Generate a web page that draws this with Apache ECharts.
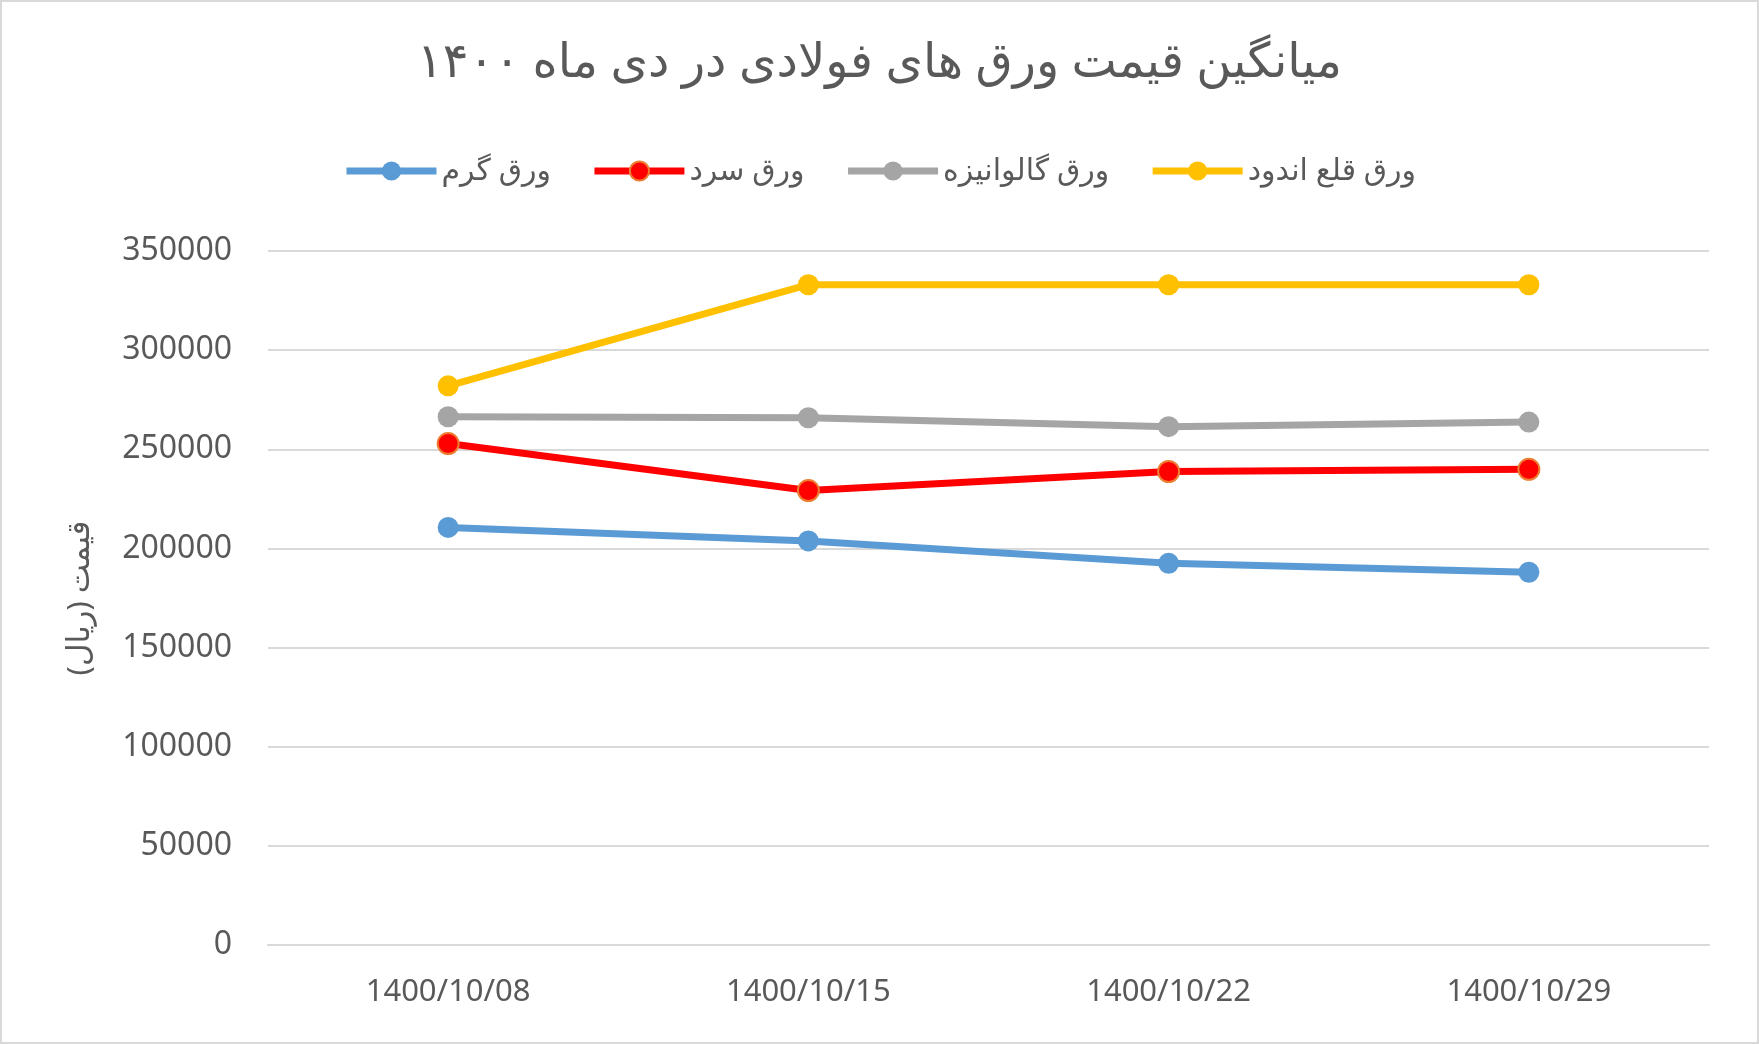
<!DOCTYPE html>
<html><head><meta charset="utf-8">
<script src="https://cdn.jsdelivr.net/npm/echarts@6/dist/echarts.min.js"></script>
<style>html,body{margin:0;padding:0;background:#fff}#c{width:1759px;height:1044px;box-sizing:border-box;border:2px solid #d9d9d9}</style>
</head><body><div id="c"></div>
<script>
const categories = ['1400/10/08','1400/10/15','1400/10/22','1400/10/29'];
const hot = [210600, 203800, 192500, 188000];
const cold = [252900, 229200, 238800, 239900];
const galv = [266400, 265900, 261400, 263700];
const tin = [282000, 333000, 333000, 333000];
const names = ['ورق گرم','ورق سرد','ورق گالوانیزه','ورق قلع اندود'];
const colors = ['#5b9bd5','#ff0000','#a5a5a5','#ffc000'];
const borders = ['#5b9bd5','#ed7d31','#a5a5a5','#ffc000'];
const data = [hot, cold, galv, tin];
const chart = echarts.init(document.getElementById('c'));
const font = 'Noto Sans, DejaVu Sans, sans-serif';
chart.setOption({
  title:{text:'میانگین قیمت ورق های فولادی در دی ماه ۱۴۰۰',left:'center',top:32,textStyle:{fontSize:48,fontWeight:'normal',color:'#595959',fontFamily:font}},
  legend:{top:149,left:'center',itemWidth:90,itemHeight:24,itemGap:40,lineStyle:{width:7},textStyle:{fontSize:30,color:'#595959',fontFamily:font},data:names},
  grid:{left:266,right:48,top:249,bottom:97},
  xAxis:{type:'category',data:categories,axisTick:{show:false},axisLine:{lineStyle:{color:'#d9d9d9',width:2}},
    axisLabel:{fontSize:31,color:'#595959',margin:32,fontFamily:font}},
  yAxis:{type:'value',min:0,max:350000,interval:50000,name:'قیمت (ریال)',nameLocation:'middle',nameGap:172,nameRotate:90,
    nameTextStyle:{fontSize:31,color:'#595959',fontFamily:font},
    axisLabel:{fontSize:32,color:'#595959',margin:36,fontFamily:font,formatter:v=>String(v)},splitLine:{lineStyle:{color:'#d9d9d9',width:2}}},
  series:data.map((d,i)=>({name:names[i],type:'line',data:d,symbol:'circle',symbolSize:21,
    lineStyle:{width:7,color:colors[i]},itemStyle:{color:colors[i],borderColor:borders[i],borderWidth:i==1?2:0}}))
});
</script></body></html>
